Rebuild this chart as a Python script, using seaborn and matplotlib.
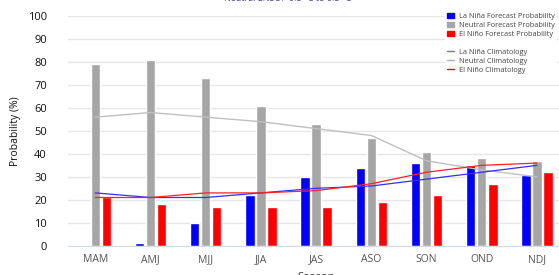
import pandas as pd
import numpy as np
import matplotlib
matplotlib.use("Agg")
import matplotlib.pyplot as plt
import seaborn as sns
from matplotlib.patches import Patch
from matplotlib.lines import Line2D

# Datos
seasons = ['MAM', 'AMJ', 'MJJ', 'JJA', 'JAS', 'ASO', 'SON', 'OND', 'NDJ']
la_nina = [0, 1, 10, 22, 30, 34, 36, 35, 31]
neutral = [79, 81, 73, 61, 53, 47, 41, 38, 37]
el_nino = [21, 18, 17, 17, 17, 19, 22, 27, 32]

la_nina_clim = [23, 21, 21, 23, 25, 26, 29, 32, 35]
neutral_clim = [56, 58, 56, 54, 51, 48, 37, 33, 30]
el_nino_clim = [21, 21, 23, 23, 24, 27, 32, 35, 36]

series = ['La Niña Forecast Probability', 'Neutral Forecast Probability', 'El Niño Forecast Probability']
colores = ['#0000ff', '#a6a6a6', '#ff0000']

df = pd.DataFrame({
    'season': seasons * 3,
    'prob': la_nina + neutral + el_nino,
    'tipo': [s for s in series for _ in seasons],
})

sns.set_style('white')
plt.rcParams['font.family'] = ['Open Sans', 'DejaVu Sans']

fig = plt.figure(figsize=(5.59, 2.75), dpi=100)
ax = fig.add_axes([0.121, 0.1065, 0.889, 0.835])

sns.barplot(data=df, x='season', y='prob', hue='tipo', order=seasons,
            hue_order=series, palette=colores, width=0.6, gap=0.15,
            saturation=1, legend=False, ax=ax)

x = np.arange(len(seasons))
sns.lineplot(x=x, y=neutral_clim, color='#c0c0c0', lw=1, ax=ax)
sns.lineplot(x=x, y=la_nina_clim, color='#3030ff', lw=0.9, ax=ax)
sns.lineplot(x=x, y=el_nino_clim, color='#ff2020', lw=0.9, ax=ax)

ax.set_xlim(-0.5, 8.5)
ax.set_ylim(0, 100)
ax.set_yticks(range(0, 101, 10))
ax.grid(axis='y', color='#e6e6e6', lw=1)
ax.set_axisbelow(True)
for s in ['left', 'right', 'top']:
    ax.spines[s].set_visible(False)
ax.spines['bottom'].set_color('#d5dbe6')
ax.tick_params(axis='y', length=0, pad=15, labelsize=8, labelcolor='#111111')
ax.tick_params(axis='x', length=0, pad=6, labelsize=7.5, labelcolor='#555555')
ax.set_xlabel('Season', fontsize=8, color='#333333', labelpad=5)
ax.set_ylabel('Probability (%)', fontsize=7.5, color='#111111', labelpad=5)

handles = [Patch(color=c) for c in colores]
handles += [Line2D([], [], color='none')]
handles += [Line2D([], [], color='#7070ff', lw=1),
            Line2D([], [], color='#b0b0b0', lw=1),
            Line2D([], [], color='#ff0000', lw=1)]
labels = series + [''] + ['La Niña Climatology', 'Neutral Climatology', 'El Niño Climatology']
leg = fig.legend(handles, labels, loc='upper left', bbox_to_anchor=(0.79, 0.975),
                 fontsize=5.3, frameon=True, fancybox=False, edgecolor='none',
                 framealpha=1, handlelength=0.9, handleheight=0.7,
                 handletextpad=0.6, labelspacing=0.25, borderpad=0.3)
for t in leg.get_texts():
    t.set_color('#444444')

fig.text(0.515, 1.005, 'Neutral ENSO: -0.5 °C to 0.5 °C', ha='center', va='center',
         fontsize=6.5, color='#4b3fa0')

plt.savefig('out.png', dpi=100)
